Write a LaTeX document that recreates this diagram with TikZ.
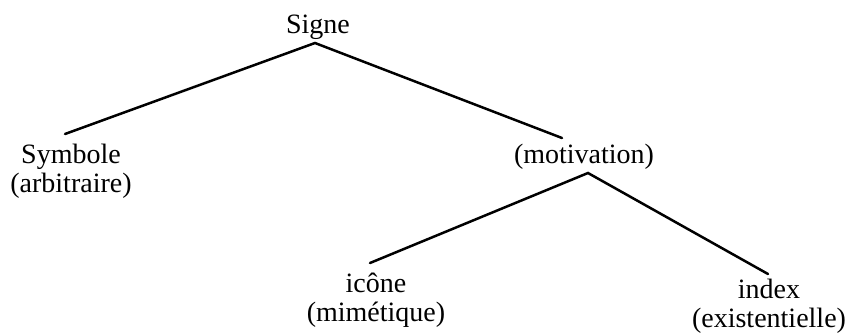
\documentclass[tikz,border=0pt]{standalone}
\usepackage{fontspec}
\setmainfont{Liberation Serif}
\begin{document}
\begin{tikzpicture}[x=1pt,y=-1pt,
  lab/.style={font=\fontsize{28}{29}\selectfont, inner sep=0pt, align=center, anchor=base},
  branch/.style={line width=2.5pt, line cap=round, line join=miter}]
\useasboundingbox (0,0) rectangle (847,335);
\node[lab] (signe) at (318,33) {Signe};
\node[lab] (symbole) at (71,192) {Symbole\\(arbitraire)};
\node[lab] (motiv) at (584,163) {(motivation)};
\node[lab] (icone) at (376,321) {icône\\(mimétique)};
\node[lab] (index) at (769,327) {index\\(existentielle)};
\coordinate (signeapex) at (315,43);
\coordinate (symtop) at (65,134);
\coordinate (motivtop) at (562,138);
\coordinate (motivapex) at (588,173);
\coordinate (iconetop) at (370,263);
\coordinate (indextop) at (768,274);
\draw[branch] (symtop) -- (signeapex) -- (motivtop);
\draw[branch] (iconetop) -- (motivapex) -- (indextop);
\end{tikzpicture}
\end{document}
